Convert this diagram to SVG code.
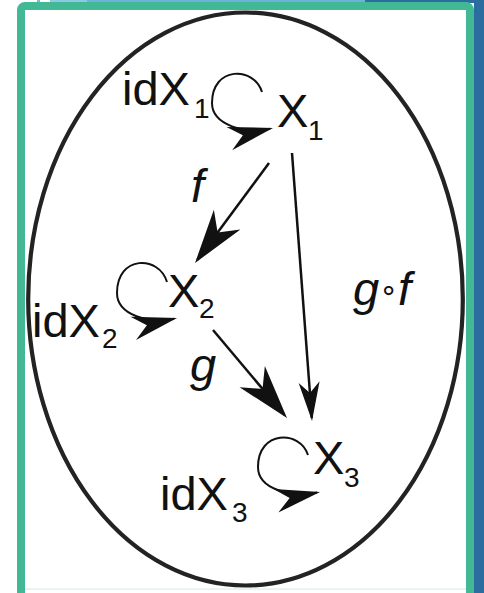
<svg xmlns="http://www.w3.org/2000/svg" width="484" height="593" viewBox="0 0 484 593">
<style>
.lbl{font-family:"Liberation Sans",Arial,sans-serif;font-size:47px;fill:#111}
.sub{font-size:28px}
.it{font-style:italic}
.edge{fill:none;stroke:#111;stroke-width:2.5}
.loop{fill:none;stroke:#111;stroke-width:2}
</style>
<defs>
<marker id="big" markerUnits="userSpaceOnUse" viewBox="-60 -20 70 40" refX="0" refY="0" markerWidth="70" markerHeight="40" orient="auto" overflow="visible">
<path d="M4,0 L-50,-16.5 L-34,0 L-50,16.5 Z" fill="#111"/>
</marker>
<marker id="thin" markerUnits="userSpaceOnUse" viewBox="-50 -15 60 30" refX="0" refY="0" markerWidth="60" markerHeight="30" orient="auto" overflow="visible">
<path d="M3,0 L-36,-10.5 L-25,0 L-36,10.5 Z" fill="#111"/>
</marker>
<marker id="lh" markerUnits="userSpaceOnUse" viewBox="-50 -15 60 30" refX="0" refY="0" markerWidth="60" markerHeight="30" orient="auto" overflow="visible">
<path d="M3,0 L-42,-12 L-28,0 L-42,12 Z" fill="#111"/>
</marker>
</defs>
<rect x="0" y="0" width="484" height="593" fill="#ffffff"/>
<rect x="37" y="0" width="3" height="3" fill="#7bbde0"/>
<rect x="50" y="0" width="37" height="3" fill="#8fc8e4"/>
<rect x="87" y="0" width="278" height="3" fill="#6db3d9"/>
<rect x="365" y="0" width="119" height="3" fill="#2b6d9e"/>
<rect x="474" y="0" width="10" height="593" fill="#2b6d9e"/>
<rect x="21" y="6" width="449" height="600" rx="4" fill="#ffffff" stroke="#42b994" stroke-width="8"/>
<line x1="25" y1="589" x2="466" y2="589" stroke="#d8e8e2" stroke-width="1"/>
<ellipse cx="245.5" cy="299" rx="217.3" ry="286.5" fill="none" stroke="#232323" stroke-width="4.2"/>
<g id="connectors">
<path class="edge" d="M269,163 L197.4,259.8" marker-end="url(#big)"/>
<path class="edge" d="M213,330 L284.4,414.9" marker-end="url(#big)"/>
<path class="edge" d="M292,153 L311.8,418" marker-end="url(#thin)"/>
<path class="loop" d="M262,92 C254,66 212,66 212,103 C212,125 245.8,134.6 270.1,128.7" marker-end="url(#lh)"/>
<path class="loop" d="M167,282 C159,255 117,255 117,293 C117,315 149.8,324.5 174.1,318.7" marker-end="url(#lh)"/>
<path class="loop" d="M308,455 C300,430 258,430 258,467 C258,490 292.6,497.5 317.1,492.6" marker-end="url(#lh)"/>
<text class="lbl it" x="191" y="202">f</text>
<text class="lbl it" x="190" y="381">g</text>
<text class="lbl it" x="353" y="305">g<tspan font-family="DejaVu Sans" font-style="normal" font-size="30" dy="-5">∘</tspan><tspan dy="5">f</tspan></text>
</g>
<g id="X1"><text class="lbl" x="277" y="127">X<tspan class="sub" x="308" y="140">1</tspan></text></g>
<g id="idX1"><text class="lbl" x="122" y="105">idX<tspan class="sub" x="194" y="118">1</tspan></text></g>
<g id="X2"><text class="lbl" x="168" y="307">X<tspan class="sub" x="199" y="318">2</tspan></text></g>
<g id="idX2"><text class="lbl" x="32" y="337">idX<tspan class="sub" x="102" y="348">2</tspan></text></g>
<g id="X3"><text class="lbl" x="313" y="474">X<tspan class="sub" x="344" y="487">3</tspan></text></g>
<g id="idX3"><text class="lbl" x="160" y="510">idX<tspan class="sub" x="232" y="522">3</tspan></text></g>
</svg>
